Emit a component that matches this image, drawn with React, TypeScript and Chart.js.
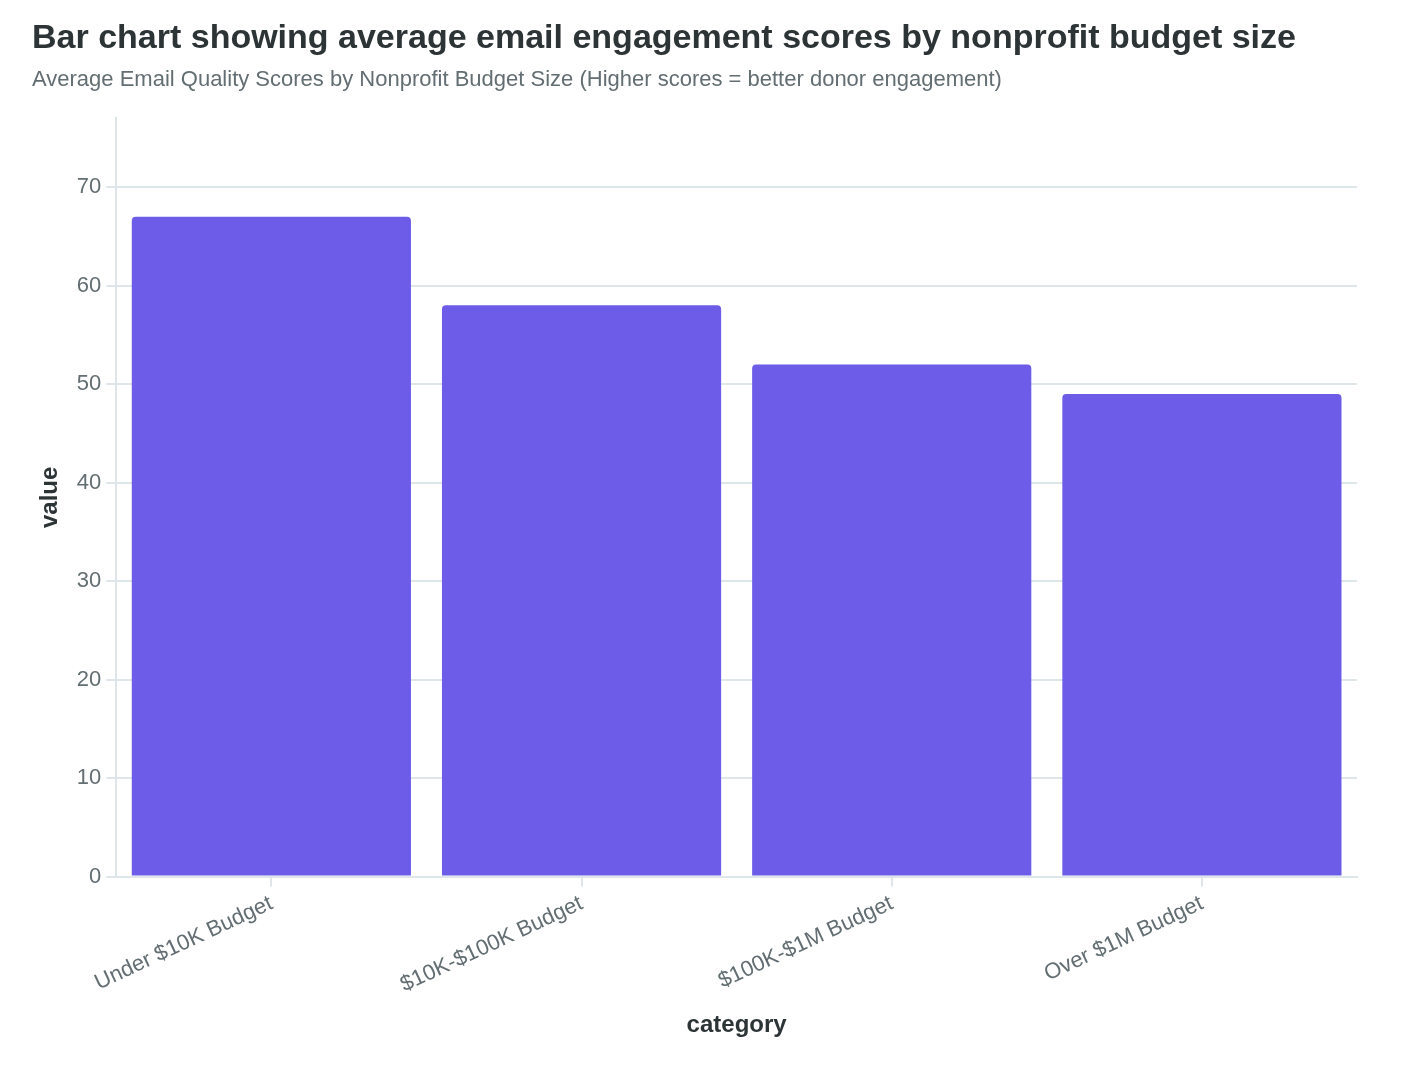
import React, { useEffect, useRef } from "react";
import { Chart, registerables } from "chart.js";

Chart.register(...registerables);

const categories = [
  "Under $10K Budget",
  "$10K-$100K Budget",
  "$100K-$1M Budget",
  "Over $1M Budget",
];
const scores = [67, 58, 52, 49];
const yMax = 77;

const FONT = "'Liberation Sans', Arial, sans-serif";

const App: React.FC = () => {
  const canvasRef = useRef<HTMLCanvasElement | null>(null);
  const chartRef = useRef<Chart | null>(null);

  useEffect(() => {
    if (!canvasRef.current) return;
    const ctx = canvasRef.current.getContext("2d");
    if (!ctx) return;
    if (chartRef.current) chartRef.current.destroy();

    chartRef.current = new Chart(ctx, {
      type: "bar",
      data: {
        labels: categories,
        datasets: [
          {
            label: "value",
            data: scores,
            backgroundColor: "#6c5ce7",
            borderWidth: 0,
            borderRadius: 4,
            borderSkipped: "bottom",
            barPercentage: 0.9,
            categoryPercentage: 1,
          },
        ],
      },
      options: {
        responsive: true,
        maintainAspectRatio: false,
        animation: false,
        layout: { padding: { left: 24, right: 41, top: 10, bottom: 14 } },
        plugins: {
          legend: { display: false },
          tooltip: { enabled: false },
          title: {
            display: true,
            text: "Bar chart showing average email engagement scores by nonprofit budget size",
            align: "start",
            color: "#2d3436",
            font: { family: FONT, size: 34, weight: "bold" },
            padding: { top: 0, bottom: 8 },
          },
          subtitle: {
            display: true,
            text: "Average Email Quality Scores by Nonprofit Budget Size (Higher scores = better donor engagement)",
            align: "start",
            color: "#636e72",
            font: { family: FONT, size: 22 },
            padding: { top: 0, bottom: 25 },
          },
        },
        scales: {
          x: {
            grid: {
              offset: false,
              drawOnChartArea: false,
              drawTicks: true,
              tickLength: 10,
              color: "#dfe6e9",
              lineWidth: 2,
            },
            border: { color: "#dfe6e9", width: 2 },
            ticks: {
              color: "#636e72",
              font: { family: FONT, size: 22 },
              maxRotation: 25,
              minRotation: 25,
              padding: 4,
            },
            title: {
              display: true,
              text: "category",
              color: "#2d3436",
              font: { family: FONT, size: 24, weight: "bold" },
              padding: { top: 9 },
            },
          },
          y: {
            beginAtZero: true,
            min: 0,
            max: yMax,
            afterBuildTicks: (axis) => {
              axis.ticks = axis.ticks.filter((t) => t.value % 10 === 0);
            },
            ticks: {
              stepSize: 10,
              color: "#636e72",
              font: { family: FONT, size: 22 },
              padding: 5,
            },
            grid: { color: "#dfe6e9", lineWidth: 2, tickLength: 10 },
            border: { color: "#dfe6e9", width: 2 },
            title: {
              display: true,
              text: "value",
              color: "#2d3436",
              font: { family: FONT, size: 24, weight: "bold" },
              padding: { bottom: 7 },
            },
          },
        },
      },
    });

    return () => {
      if (chartRef.current) {
        chartRef.current.destroy();
        chartRef.current = null;
      }
    };
  }, []);

  return (
    <div style={{ position: "relative", width: 1390, height: 1050 }}>
      <canvas ref={canvasRef}></canvas>
    </div>
  );
};

export default App;
